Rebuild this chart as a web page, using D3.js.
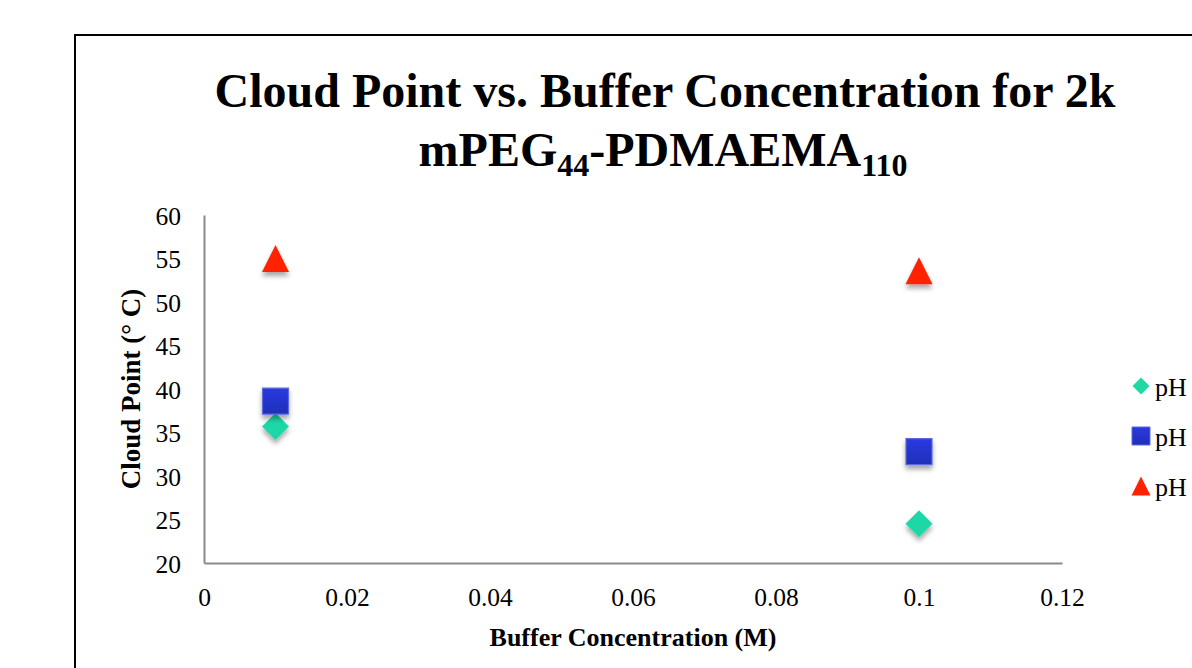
<!DOCTYPE html>
<html><head><meta charset="utf-8">
<script src="https://cdn.jsdelivr.net/npm/d3@7"></script>
<style>body{margin:0;background:#fff}svg{display:block}</style>
</head><body>
<svg id="chart" width="1192" height="668"></svg>
<script>
const xTicks = [0, 0.02, 0.04, 0.06, 0.08, 0.1, 0.12];
const yTicks = [20, 25, 30, 35, 40, 45, 50, 55, 60];
const seriesNames = ["pH", "pH", "pH"];
const seriesShapes = ["diamond", "square", "triangle"];
const seriesColors = ["#1fd8a6", "#2236d0", "#ff2200"];
const concentrations = [0.01, 0.1];
const seriesA = [35.7, 24.5];
const seriesB = [38.6, 32.8];
const seriesC = [55, 53.6];
const allSeries = [seriesA, seriesB, seriesC];

const svg = d3.select("#chart");
const ff = "'Liberation Serif','Times New Roman',serif";
const defs = svg.append("defs");
const f = defs.append("filter").attr("id","sh").attr("x","-50%").attr("y","-50%").attr("width","200%").attr("height","200%");
f.append("feDropShadow").attr("dx",0).attr("dy",4).attr("stdDeviation",2.5).attr("flood-color","#000").attr("flood-opacity",0.35);
const g1 = defs.append("linearGradient").attr("id","gsq").attr("x1",0).attr("y1",0).attr("x2",0).attr("y2",1);
g1.append("stop").attr("offset","0").attr("stop-color","#2a3ae0");
g1.append("stop").attr("offset","1").attr("stop-color","#1e2fb8");

// frame
svg.append("rect").attr("x",75).attr("y",35).attr("width",1200).attr("height",700)
  .attr("fill","none").attr("stroke","#000").attr("stroke-width",2);

const x = d3.scaleLinear().domain([0,0.12]).range([204,1062]);
const y = d3.scaleLinear().domain([20,60]).range([563,215]);

// axes
const xAxis = d3.axisBottom(x).tickValues(xTicks).tickSize(0).tickPadding(25).tickFormat(d=>String(d));
const yAxis = d3.axisLeft(y).tickValues(yTicks).tickSize(0).tickPadding(23).tickFormat(d=>String(d));
const gx = svg.append("g").attr("transform","translate(0,563)").call(xAxis);
const gy = svg.append("g").attr("transform","translate(204,0)").call(yAxis);
[gx,gy].forEach(g=>{
  g.select(".domain").attr("stroke","#8a8a8a").attr("stroke-width",2);
  g.selectAll("text").attr("font-family",ff).attr("font-size",25.5).attr("fill","#000");
});
gy.selectAll("text").attr("dy","0.36em");

// titles
const t = svg.append("text").attr("text-anchor","middle").attr("font-family",ff).attr("font-weight","bold").attr("font-size",48).attr("fill","#000");
t.append("tspan").attr("x",665).attr("y",107).text("Cloud Point vs. Buffer Concentration for 2k");
const t2 = svg.append("text").attr("text-anchor","middle").attr("font-family",ff).attr("font-weight","bold").attr("font-size",48).attr("fill","#000").attr("x",663).attr("y",166);
t2.append("tspan").text("mPEG");
t2.append("tspan").attr("font-size",32).attr("dy",10).text("44");
t2.append("tspan").attr("dy",-10).text("-PDMAEMA");
t2.append("tspan").attr("font-size",32).attr("dy",10).text("110");

svg.append("text").attr("x",633).attr("y",646).attr("text-anchor","middle").attr("font-family",ff)
  .attr("font-weight","bold").attr("font-size",26).text("Buffer Concentration (M)");
svg.append("text").attr("transform","translate(140,389) rotate(-90)").attr("text-anchor","middle").attr("font-family",ff)
  .attr("font-weight","bold").attr("font-size",27).text("Cloud Point (° C)");

function shapePath(kind, s){
  if(kind==="diamond") return `M0,${-s/2}L${s/2},0L0,${s/2}L${-s/2},0Z`;
  if(kind==="square") return `M${-s/2},${-s/2}H${s/2}V${s/2}H${-s/2}Z`;
  const h = s; return `M0,${-h/2}L${s/2},${h/2}L${-s/2},${h/2}Z`;
}
const sizes = {diamond:27, square:26, triangle:27};
function fillFor(i){ return seriesShapes[i]==="square" ? "url(#gsq)" : seriesColors[i]; }

allSeries.forEach((vals,i)=>{
  svg.append("g").selectAll("path").data(vals).join("path")
    .attr("transform",(d,j)=>`translate(${x(concentrations[j])},${y(d)})`)
    .attr("d",shapePath(seriesShapes[i], sizes[seriesShapes[i]]))
    .attr("fill",fillFor(i))
    .attr("stroke", seriesShapes[i]==="square" ? "#5c68e0" : "none")
    .attr("stroke-width",1.2)
    .attr("filter","url(#sh)");
});

// legend
const leg = svg.append("g");
seriesNames.forEach((n,i)=>{
  const ly = 386 + i*50;
  leg.append("path").attr("transform",`translate(1141,${ly})`)
    .attr("d",shapePath(seriesShapes[i], seriesShapes[i]==="diamond"?17:(seriesShapes[i]==="square"?18:19)))
    .attr("fill",fillFor(i)).attr("stroke", seriesShapes[i]==="square" ? "#5c68e0" : "none");
  leg.append("text").attr("x",1155).attr("y",ly+10).attr("font-family",ff).attr("font-size",26).text(n);
});
</script>
</body></html>
